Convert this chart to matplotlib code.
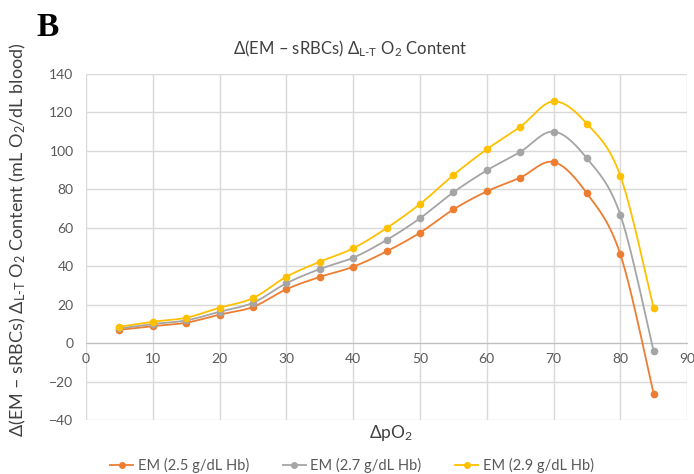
import numpy as np
import matplotlib
matplotlib.use("Agg")
import matplotlib.pyplot as plt

plt.rcParams['font.family'] = ['Lato', 'DejaVu Sans']
plt.rcParams['mathtext.fontset'] = 'custom'
plt.rcParams['mathtext.rm'] = 'Lato'
plt.rcParams['mathtext.default'] = 'regular'

# data
delta_po2 = [5, 10, 15, 20, 25, 30, 35, 40, 45, 50, 55, 60, 65, 70, 75, 80, 85]
em_25 = [6.9, 8.8, 10.6, 14.8, 18.8, 28.0, 34.4, 39.7, 47.7, 57.4, 69.5, 78.9, 86.0, 94.2, 77.9, 46.3, -26.5]
em_27 = [7.6, 9.9, 11.8, 16.3, 21.0, 31.1, 38.5, 44.4, 53.6, 64.9, 78.4, 89.8, 99.4, 110.0, 96.1, 66.8, -4.3]
em_29 = [8.5, 11.1, 13.2, 18.4, 23.4, 34.5, 42.3, 49.3, 59.8, 72.3, 87.4, 100.8, 112.4, 125.7, 114.1, 87.1, 18.0]
series_labels = ["EM (2.5 g/dL Hb)", "EM (2.7 g/dL Hb)", "EM (2.9 g/dL Hb)"]
series_colors = ["#ED7D31", "#A5A5A5", "#FFC000"]

x_ticks = np.arange(0, 91, 10)
y_ticks = np.arange(-40, 141, 20)


def smooth(x, y, sx=6.68, sy=1.92, n=30):
    # Excel-like smoothed line: Catmull-Rom bezier, done in pixel-ish space
    p = np.column_stack([np.asarray(x, float) * sx, np.asarray(y, float) * sy])
    pts = np.vstack([p[0], p, p[-1]])
    out = []
    t = np.linspace(0, 1, n)[:, None]
    for i in range(1, len(pts) - 2):
        p0, p1, p2, p3 = pts[i - 1], pts[i], pts[i + 1], pts[i + 2]
        c1 = p1 + (p2 - p0) / 6
        c2 = p2 - (p3 - p1) / 6
        seg = ((1 - t) ** 3) * p1 + 3 * ((1 - t) ** 2) * t * c1 + 3 * (1 - t) * t ** 2 * c2 + t ** 3 * p2
        out.append(seg if i == 1 else seg[1:])
    out = np.vstack(out)
    return out[:, 0] / sx, out[:, 1] / sy


fig = plt.figure(figsize=(6.94, 4.74), dpi=100)
ax = fig.add_axes([0.124, 0.114, 0.866, 0.730])

for vals, lab, col in zip([em_25, em_27, em_29], series_labels, series_colors):
    xs, ys = smooth(delta_po2, vals)
    ax.plot(xs, ys, color=col, lw=1.3, zorder=3)
    ax.plot(delta_po2, vals, 'o', color=col, ms=4.5, zorder=4)
    ax.plot([], [], '-o', color=col, lw=1.3, ms=4, label=lab)

ax.set_xlim(0, 90)
ax.set_ylim(-40, 140)
ax.set_xticks(x_ticks)
ax.set_yticks(y_ticks)
ax.grid(True, color="#D9D9D9", lw=1.0)
ax.set_axisbelow(True)
for s in ['top', 'right', 'left']:
    ax.spines[s].set_visible(False)
ax.spines['bottom'].set_position(('data', 0))
ax.spines['bottom'].set_color('#BFBFBF')
ax.spines['bottom'].set_zorder(2)
ax.tick_params(length=0, labelsize=10, labelcolor='#595959')
ax.tick_params(axis='y', pad=9)
ax.tick_params(axis='x', pad=7)

lt = r"$_{L\text{-}T}$"
fig.text(0.505, 0.897, "Δ(EM – sRBCs) Δ" + lt + r" O$_2$ Content", ha='center', va='center',
         fontsize=12, color='#404040')
fig.text(0.563, 0.086, r"ΔpO$_2$", ha='center', va='center', fontsize=12.5, color='#404040')
fig.text(0.026, 0.495, "Δ(EM – sRBCs) Δ" + lt + r" O$_2$ Content (mL O$_2$/dL blood)",
         rotation=90, ha='center', va='center', fontsize=13, color='#404040')
fig.text(0.053, 0.943, "B", ha='left', va='center', fontsize=24, fontweight='bold',
         family='Liberation Serif')

fig.legend(loc='center', bbox_to_anchor=(0.507, 0.017), ncol=3, frameon=False,
           fontsize=10.5, handlelength=1.6, columnspacing=2.3, handletextpad=0.3,
           labelcolor='#595959')

fig.savefig("out.png", dpi=100)
